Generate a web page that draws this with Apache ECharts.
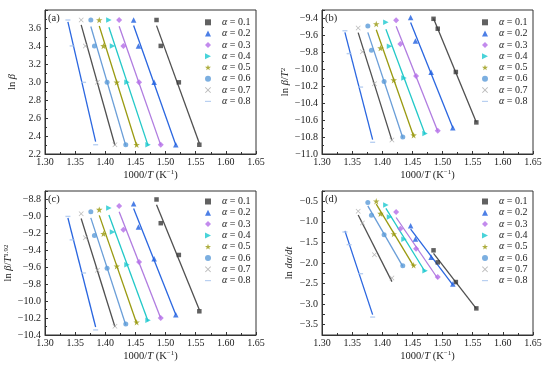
<!DOCTYPE html>
<html><head><meta charset="utf-8">
<script src="https://cdn.jsdelivr.net/npm/echarts@6/dist/echarts.min.js"></script>
<style>html,body{margin:0;padding:0;background:#fff}#c{width:550px;height:372px}</style>
</head><body><div id="c"></div>
<script>
// ---- data ----
const alphaNames = ['α = 0.1','α = 0.2','α = 0.3','α = 0.4','α = 0.5','α = 0.6','α = 0.7','α = 0.8'];
const xTicks = [1.30, 1.35, 1.40, 1.45, 1.50, 1.55, 1.60, 1.65];
// 1000/T for beta = 40, 30, 20, 10 (per alpha)
const invT01 = [1.485, 1.492, 1.522, 1.556];
const invT02 = [1.447, 1.455, 1.481, 1.517];
const invT03 = [1.423, 1.430, 1.456, 1.492];
const invT04 = [1.406, 1.412, 1.436, 1.471];
const invT05 = [1.390, 1.397, 1.419, 1.452];
const invT06 = [1.376, 1.382, 1.403, 1.434];
const invT07 = [1.360, 1.367, 1.387, 1.416];
const invT08 = [1.338, 1.345, 1.364, 1.384];
// (a) ln beta
const lnBeta = [3.689, 3.401, 2.996, 2.303];
// (b) ln beta/T^2
const kasY01 = [-9.404, -9.521, -10.032, -10.627];
const kasY02 = [-9.390, -9.665, -10.035, -10.690];
const kasY03 = [-9.420, -9.700, -10.080, -10.726];
const kasY04 = [-9.445, -9.728, -10.103, -10.757];
const kasY05 = [-9.465, -9.750, -10.128, -10.778];
const kasY06 = [-9.490, -9.776, -10.145, -10.800];
const kasY07 = [-9.512, -9.794, -10.170, -10.835];
const kasY08 = [-9.545, -9.815, -10.210, -10.862];
// (c) ln beta/T^1.92
const stkY01 = [-8.800, -9.080, -9.455, -10.120];
const stkY02 = [-8.850, -9.126, -9.500, -10.160];
const stkY03 = [-8.877, -9.157, -9.537, -10.200];
const stkY04 = [-8.900, -9.185, -9.570, -10.226];
const stkY05 = [-8.920, -9.205, -9.589, -10.250];
const stkY06 = [-8.944, -9.225, -9.613, -10.270];
const stkY07 = [-8.968, -9.253, -9.637, -10.297];
const stkY08 = [-9.000, -9.277, -9.668, -10.340];
// (d) ln da/dt
const frdY01 = [-1.692, -1.984, -2.463, -3.103];
const frdY02 = [-1.092, -1.416, -1.862, -2.511];
const frdY03 = [-0.760, -1.165, -1.652, -2.341];
const frdY04 = [-0.589, -0.881, -1.425, -2.187];
const frdY05 = [-0.500, -0.800, -1.295, -2.057];
const frdY06 = [-0.532, -0.841, -1.311, -2.065];
const frdY07 = [-0.743, -1.027, -1.800, -2.365];
const frdY08 = [-1.246, -1.554, -2.260, -3.314];

const invT = [invT01, invT02, invT03, invT04, invT05, invT06, invT07, invT08];
const panelY = [
  [lnBeta, lnBeta, lnBeta, lnBeta, lnBeta, lnBeta, lnBeta, lnBeta],
  [kasY01, kasY02, kasY03, kasY04, kasY05, kasY06, kasY07, kasY08],
  [stkY01, stkY02, stkY03, stkY04, stkY05, stkY06, stkY07, stkY08],
  [frdY01, frdY02, frdY03, frdY04, frdY05, frdY06, frdY07, frdY08]
];

// ---- styles ----
const FONT = "'Liberation Serif','Times New Roman',serif";
const markerColors = ['#3a3a3a','#1f5fe0','#b46ee8','#1cc8d0','#9a9a10','#5b9bd8','#a8a8a8','#a8c4ee'];
const lineColors = ['#505050','#2a66e0','#b07ce0','#22c8c8','#9a9a10','#6a9ed8','#505050','#2a66e0'];
const P_RTRI = 'path://M0,0L10,5L0,10Z';
const P_STAR = 'path://M5,0L6.18,3.38L9.76,3.45L6.9,5.62L7.94,9.05L5,7L2.06,9.05L3.1,5.62L0.24,3.45L3.82,3.38Z';
const P_X = 'path://M0,1L1,0L5,4L9,0L10,1L6,5L10,9L9,10L5,6L1,10L0,9L4,5Z';
const P_DASH = 'path://M0,0H10V2H0Z';
const symbols = ['rect','triangle','diamond',P_RTRI,P_STAR,'circle',P_X,P_DASH];
const symSizes = [4.5,5.5,6,5.5,6.5,5,5,[5,1.4]];

const grids = [
  {left:45, top:10}, {left:322, top:10}, {left:45, top:191}, {left:322, top:191}
];
const W = 211, H = 144;

const yCfg = [
  {min:2.2, max:3.8, interval:0.2, dec:1, name:'ln {i|β}'},
  {min:-11, max:-9.3, interval:0.2, dec:1, name:'ln {i|β}/{i|T}{s|2}'},
  {min:-10.4, max:-8.7, interval:0.2, dec:1, name:'ln {i|β}/{i|T}{s|1.92}'},
  {min:-3.75, max:-0.25, interval:0.25, dec:1, name:'ln {i|dα}/{i|dt}', half:true}
];
const letters = ['(a)','(b)','(c)','(d)'];
const legendTops = [17.3, 17.3, 196.5, 196.5];

const richName = {
  i:{fontFamily:FONT, fontStyle:'italic', fontSize:10.5, color:'#222'},
  s:{fontFamily:FONT, fontSize:7, color:'#222', verticalAlign:'top', lineHeight:12}
};
function fmtNum(v, dec){ const s = v.toFixed(dec); return s.replace('-', '\u2212'); }

const option = {
  animation:false,
  backgroundColor:'#fff',
  grid: grids.map(g => ({left:g.left, top:g.top, width:W, height:H, show:true, borderColor:'#333', borderWidth:1, containLabel:false})),
  xAxis: grids.map((g,p) => ({
    type:'value', gridIndex:p, min:xTicks[0], max:xTicks[xTicks.length-1], interval:0.05,
    name:'1000/{i|T} (K{s|−1})', nameLocation:'middle', nameGap:15,
    nameTextStyle:{fontFamily:FONT, fontSize:10.5, color:'#222', rich:richName},
    axisLine:{lineStyle:{color:'#333', width:1}},
    axisTick:{inside:true, length:3, lineStyle:{color:'#333'}},
    minorTick:{show:true, splitNumber:2, length:2, lineStyle:{color:'#333'}},
    splitLine:{show:false},
    axisLabel:{fontFamily:FONT, fontSize:10, color:'#222', margin:3, formatter:v=>v.toFixed(2)}
  })),
  yAxis: yCfg.map((c,p) => ({
    type:'value', gridIndex:p, min:c.min, max:c.max, interval:c.interval,
    name:c.name, nameLocation:'middle', nameGap:27,
    nameTextStyle:{fontFamily:FONT, fontSize:10.5, color:'#222', rich:richName},
    axisLine:{lineStyle:{color:'#333', width:1}},
    axisTick:{inside:true, length:3, lineStyle:{color:'#333'}},
    minorTick:{show:!c.half, splitNumber:2, length:2, lineStyle:{color:'#333'}},
    splitLine:{show:false},
    axisLabel:{fontFamily:FONT, fontSize:10, color:'#222', margin:4, showMaxLabel: c.half ? undefined : false,
      formatter: v => {
        if (c.half) { const k = v*2; if (Math.abs(k - Math.round(k)) > 1e-6) return ''; }
        return fmtNum(v, c.dec);
      }}
  })),
  legend: grids.map((g,p) => ({
    orient:'vertical', left:g.left + 160, top:legendTops[p], padding:0, itemGap:1.3,
    itemWidth:6, itemHeight:6, selectedMode:false,
    data: alphaNames.map((n,a) => ({name:n, icon:symbols[a], itemStyle:{color:markerColors[a]}})),
    formatter: n => '{g| }{i|α}{t|' + n.slice(1) + '}',
    textStyle:{fontFamily:FONT, fontSize:10, color:'#222', rich:{
      g:{width:6, lineHeight:12},
      i:{fontFamily:FONT, fontStyle:'italic', fontSize:10, lineHeight:12, color:'#222'},
      t:{fontFamily:FONT, fontSize:10, lineHeight:12, color:'#222'}
    }}
  })),
  graphic: grids.map((g,p) => ({
    type:'text', left:g.left + 3, top:g.top + 3,
    style:{text:letters[p], font:'10.5px ' + FONT, fill:'#222'}
  })),
  series: []
};

function fitLine(xs, ys){
  const n = xs.length;
  let sx=0, sy=0, sxx=0, sxy=0;
  for (let i=0;i<n;i++){ sx+=xs[i]; sy+=ys[i]; sxx+=xs[i]*xs[i]; sxy+=xs[i]*ys[i]; }
  const b = (n*sxy - sx*sy)/(n*sxx - sx*sx);
  const a0 = (sy - b*sx)/n;
  const x0 = Math.min(...xs), x1 = Math.max(...xs);
  return [[x0, a0 + b*x0], [x1, a0 + b*x1]];
}

for (let p=0;p<4;p++){
  for (let a=0;a<8;a++){
    const xs = invT[a], ys = panelY[p][a];
    option.series.push({
      type:'line', name:'fit'+p+a, xAxisIndex:p, yAxisIndex:p, data:fitLine(xs, ys),
      showSymbol:false, symbol:'none', silent:true, z:2,
      lineStyle:{color:lineColors[a], width:1.3}
    });
    option.series.push({
      type:'scatter', name:alphaNames[a], xAxisIndex:p, yAxisIndex:p,
      data: xs.map((x,i) => [x, ys[i]]),
      symbol:symbols[a], symbolSize:symSizes[a], silent:true, z:3,
      itemStyle:{color:markerColors[a]}
    });
  }
}

const chart = echarts.init(document.getElementById('c'), null, {renderer:'canvas'});
chart.setOption(option);
</script></body></html>
